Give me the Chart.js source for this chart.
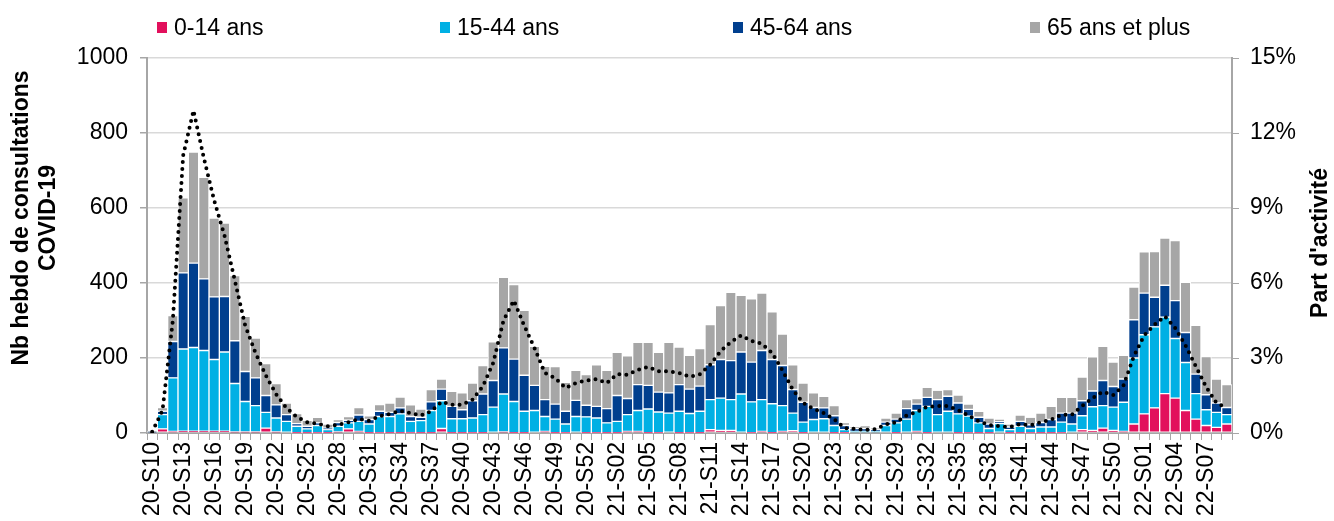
<!DOCTYPE html>
<html lang="fr">
<head>
    <meta charset="UTF-8">
    <title>Consultations COVID-19 par âge</title>
    <script src="https://cdn.jsdelivr.net/npm/chart.js"></script>
</head>
<body style="margin: 0; background-color: white; font-family: 'Liberation Sans', Arial, sans-serif;">
    <div style="position: relative; width: 1334px; height: 521px;">
        <div id="legend" style="position: absolute; top: 0; left: 0; width: 1334px; height: 55px;"></div>
        <canvas id="chart" width="1334" height="521"></canvas>
    </div>

    <script>
        // Semaines (20-S10 à 22-S09)
        const weeks = [
            '20-S10','20-S11','20-S12','20-S13','20-S14','20-S15','20-S16','20-S17','20-S18','20-S19',
            '20-S20','20-S21','20-S22','20-S23','20-S24','20-S25','20-S26','20-S27','20-S28','20-S29',
            '20-S30','20-S31','20-S32','20-S33','20-S34','20-S35','20-S36','20-S37','20-S38','20-S39',
            '20-S40','20-S41','20-S42','20-S43','20-S44','20-S45','20-S46','20-S47','20-S48','20-S49',
            '20-S50','20-S51','20-S52','20-S53','21-S01','21-S02','21-S03','21-S04','21-S05','21-S06',
            '21-S07','21-S08','21-S09','21-S10','21-S11','21-S12','21-S13','21-S14','21-S15','21-S16',
            '21-S17','21-S18','21-S19','21-S20','21-S21','21-S22','21-S23','21-S24','21-S25','21-S26',
            '21-S27','21-S28','21-S29','21-S30','21-S31','21-S32','21-S33','21-S34','21-S35','21-S36',
            '21-S37','21-S38','21-S39','21-S40','21-S41','21-S42','21-S43','21-S44','21-S45','21-S46',
            '21-S47','21-S48','21-S49','21-S50','21-S51','21-S52','22-S01','22-S02','22-S03','22-S04',
            '22-S05','22-S06','22-S07','22-S08','22-S09'
        ];

        const seriesNames = ['0-14 ans', '15-44 ans', '45-64 ans', '65 ans et plus'];
        const seriesColors = ['#E2105C', '#00B0E4', '#003F8E', '#A6A6A6'];

        const age0_14 = [
            0, 11, 4, 5, 5, 5, 5, 5, 3, 3,
            3, 13, 3, 2, 1, 1, 1, 1, 3, 11,
            4, 1, 1, 1, 1, 1, 1, 1, 12, 1,
            1, 1, 1, 2, 3, 1, 1, 2, 4, 1,
            1, 2, 1, 1, 1, 1, 4, 4, 1, 1,
            2, 1, 1, 1, 9, 7, 7, 2, 1, 4,
            1, 4, 6, 1, 2, 2, 1, 1, 0, 0,
            0, 0, 1, 2, 4, 1, 2, 2, 1, 1,
            1, 1, 2, 1, 1, 1, 1, 1, 1, 2,
            9, 7, 13, 7, 4, 24, 51, 67, 105, 93,
            60, 37, 20, 15, 24
        ];
        const age15_44 = [
            2, 38, 143, 219, 223, 215, 191, 211, 129, 81,
            70, 42, 37, 29, 17, 10, 19, 8, 15, 16,
            27, 23, 43, 43, 50, 30, 32, 59, 74, 37,
            37, 39, 48, 67, 101, 83, 57, 58, 40, 36,
            23, 42, 42, 39, 26, 30, 45, 56, 63, 55,
            51, 57, 51, 57, 80, 86, 82, 102, 82, 85,
            77, 69, 47, 28, 34, 36, 19, 8, 4, 4,
            4, 20, 26, 35, 56, 70, 47, 56, 50, 44,
            26, 11, 23, 8, 17, 11, 15, 15, 28, 22,
            37, 63, 60, 62, 78, 176, 211, 216, 204, 159,
            128, 68, 42, 40, 25
        ];
        const age45_64 = [
            1, 9, 97, 203, 225, 191, 167, 148, 114, 80,
            74, 45, 35, 18, 7, 7, 7, 4, 10, 7,
            17, 12, 14, 11, 16, 13, 9, 23, 31, 33,
            24, 46, 55, 71, 123, 113, 96, 67, 45, 40,
            34, 43, 31, 31, 38, 69, 43, 69, 63, 53,
            54, 71, 65, 67, 93, 103, 104, 112, 106, 131,
            118, 107, 63, 53, 32, 29, 26, 11, 8, 8,
            5, 9, 10, 28, 17, 24, 40, 40, 29, 18,
            15, 12, 5, 7, 13, 10, 12, 20, 24, 29,
            40, 42, 67, 55, 62, 102, 111, 79, 85, 101,
            80, 52, 40, 25, 19
        ];
        const age65plus = [
            1, 10, 69, 200, 296, 271, 210, 196, 174, 147,
            106, 85, 57, 31, 27, 16, 15, 11, 8, 10,
            20, 10, 18, 25, 29, 31, 22, 33, 27, 40,
            45, 47, 76, 103, 188, 199, 173, 104, 89, 100,
            77, 80, 82, 111, 102, 115, 114, 113, 115, 106,
            135, 100, 90, 100, 107, 144, 182, 151, 169, 153,
            127, 84, 66, 51, 39, 31, 27, 8, 6, 8,
            4, 11, 16, 24, 15, 27, 25, 18, 21, 14,
            16, 16, 7, 8, 17, 20, 25, 35, 42, 42,
            63, 91, 91, 65, 63, 87, 110, 122, 126, 160,
            134, 130, 102, 64, 61
        ];

        // Part d'activité (%)
        const partActivite = [
            0.05, 0.9, 4.5, 11.1, 12.9, 11.0, 9.3, 7.9, 6.1, 4.3,
            3.2, 2.3, 1.55, 1.0, 0.64, 0.43, 0.37, 0.27, 0.33, 0.43,
            0.56, 0.49, 0.67, 0.76, 0.89, 0.8, 0.7, 0.87, 1.25, 1.13,
            1.13, 1.33, 1.87, 2.8, 4.5, 5.3, 4.3, 3.4, 2.4, 2.2,
            1.8, 2.0, 2.1, 2.16, 2.0, 2.36, 2.33, 2.53, 2.64, 2.47,
            2.47, 2.4, 2.25, 2.35, 2.73, 3.27, 3.64, 3.9, 3.68, 3.57,
            3.2, 2.5, 1.73, 1.2, 0.97, 0.8, 0.55, 0.2, 0.16, 0.13,
            0.15, 0.35, 0.43, 0.7, 0.84, 1.05, 1.08, 1.08, 0.92, 0.7,
            0.47, 0.32, 0.27, 0.24, 0.36, 0.31, 0.43, 0.53, 0.73, 0.73,
            1.08, 1.4, 1.65, 1.52, 1.9, 3.07, 3.9, 4.33, 4.67, 4.2,
            3.5, 2.67, 1.84, 1.2, 1.0
        ];

        const leftTitle = ['Nb hebdo de consultations', 'COVID-19'];
        const rightTitle = "Part d'activité";

        const FONT = "'Liberation Sans', Arial, sans-serif";

        // Légende façon Excel, items espacés
        const legendX = [157, 440, 733, 1030];
        const legendDiv = document.getElementById('legend');
        seriesNames.forEach((name, i) => {
            const item = document.createElement('div');
            item.style.cssText = `position:absolute; left:${legendX[i]}px; top:13px; height:28px; display:flex; align-items:center; font-size:23px; color:#000; white-space:nowrap;`;
            item.innerHTML = `<span style="display:inline-block; width:10px; height:11px; background:${seriesColors[i]}; margin-right:7px;"></span>${name}`;
            legendDiv.appendChild(item);
        });

        // Titres des axes (lus de bas en haut)
        const axisTitles = {
            id: 'axisTitles',
            afterDraw(chart) {
                const ctx = chart.ctx;
                ctx.save();
                ctx.fillStyle = '#000';
                ctx.font = 'bold 23px ' + FONT;
                ctx.textAlign = 'center';
                ctx.textBaseline = 'middle';
                ctx.translate(22, 218);
                ctx.rotate(-Math.PI / 2);
                ctx.fillText(leftTitle[0], 0, 0);
                ctx.fillText(leftTitle[1], 0, 27);
                ctx.restore();

                ctx.save();
                ctx.fillStyle = '#000';
                ctx.font = 'bold 23px ' + FONT;
                ctx.textAlign = 'center';
                ctx.textBaseline = 'middle';
                ctx.translate(1321, 243);
                ctx.rotate(-Math.PI / 2);
                ctx.fillText(rightTitle, 0, 0);
                ctx.restore();
            }
        };

        const barStyle = {
            borderColor: '#ffffff',
            borderWidth: 1,
            borderSkipped: false,
            barPercentage: 1,
            categoryPercentage: 1,
            yAxisID: 'y',
            order: 1
        };

        const ctx = document.getElementById('chart').getContext('2d');
        new Chart(ctx, {
            type: 'bar',
            data: {
                labels: weeks,
                datasets: [
                    {
                        type: 'line',
                        label: rightTitle,
                        data: partActivite,
                        yAxisID: 'y1',
                        borderColor: '#000',
                        borderWidth: 4,
                        borderDash: [0, 7],
                        borderCapStyle: 'round',
                        pointRadius: 0,
                        tension: 0,
                        fill: false,
                        order: 0
                    },
                    Object.assign({ label: seriesNames[0], data: age0_14, backgroundColor: seriesColors[0] }, barStyle),
                    Object.assign({ label: seriesNames[1], data: age15_44, backgroundColor: seriesColors[1] }, barStyle),
                    Object.assign({ label: seriesNames[2], data: age45_64, backgroundColor: seriesColors[2] }, barStyle),
                    Object.assign({ label: seriesNames[3], data: age65plus, backgroundColor: seriesColors[3] }, barStyle)
                ]
            },
            options: {
                responsive: false,
                animation: false,
                layout: { padding: { top: 58, left: 0, right: 0, bottom: 0 } },
                plugins: {
                    legend: { display: false },
                    tooltip: { enabled: false }
                },
                scales: {
                    x: {
                        stacked: true,
                        offset: true,
                        afterFit: s => { s.height = 88; },
                        grid: {
                            offset: true,
                            drawOnChartArea: false,
                            drawTicks: true,
                            tickLength: 7,
                            color: '#A6A6A6',
                            lineWidth: 1
                        },
                        border: { display: true, color: '#A6A6A6', width: 2 },
                        ticks: {
                            autoSkip: false,
                            maxRotation: 90,
                            minRotation: 90,
                            padding: 2,
                            color: '#000',
                            font: { family: FONT, size: 23 },
                            callback: function (value, index) {
                                return index % 3 === 0 ? this.getLabelForValue(value) : '';
                            }
                        }
                    },
                    y: {
                        stacked: true,
                        position: 'left',
                        min: 0,
                        max: 1000,
                        afterFit: s => { s.width = 147; },
                        grid: {
                            color: '#D9D9D9',
                            lineWidth: 1.5,
                            tickLength: 7,
                            tickColor: '#A6A6A6'
                        },
                        border: { display: true, color: '#A6A6A6', width: 2 },
                        ticks: {
                            stepSize: 200,
                            padding: 12,
                            color: '#000',
                            font: { family: FONT, size: 23 },
                            callback: v => String(v)
                        }
                    },
                    y1: {
                        position: 'right',
                        min: 0,
                        max: 15,
                        afterFit: s => { s.width = 102; },
                        grid: {
                            drawOnChartArea: false,
                            tickLength: 7,
                            tickColor: '#A6A6A6'
                        },
                        border: { display: true, color: '#A6A6A6', width: 2 },
                        ticks: {
                            stepSize: 3,
                            padding: 11,
                            color: '#000',
                            font: { family: FONT, size: 23 },
                            callback: v => v + '%'
                        }
                    }
                }
            },
            plugins: [axisTitles]
        });
    </script>
</body>
</html>
